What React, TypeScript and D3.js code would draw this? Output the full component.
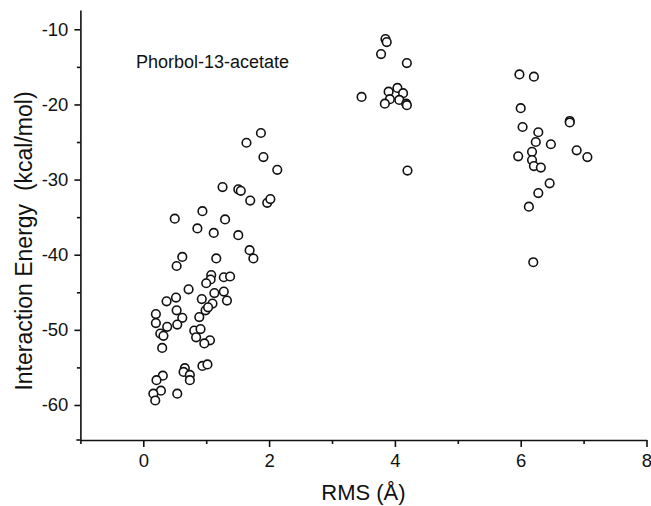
import React, { useEffect, useRef } from "react";
import * as d3 from "d3";

// [RMS (Å), interaction energy (kcal/mol)]
const lowRmsPoints: [number, number][] = [
  [1.87, -23.8], [1.64, -25.1], [1.91, -27.0], [2.13, -28.7], [1.26, -31.0],
  [1.51, -31.3], [1.55, -31.5], [1.70, -32.8], [1.97, -33.1], [2.02, -32.6],
  [0.50, -35.2], [0.94, -34.2], [1.30, -35.3], [0.86, -36.5], [1.12, -37.1],
  [1.51, -37.4], [1.69, -39.4], [1.75, -40.5], [0.62, -40.3], [0.53, -41.5],
  [1.16, -40.5], [1.08, -42.7], [1.07, -43.3], [1.00, -43.8], [1.28, -43.0],
  [1.38, -42.9], [0.72, -44.6], [0.52, -45.7], [0.37, -46.2], [0.93, -45.9],
  [1.13, -45.1], [1.28, -44.9], [1.33, -46.1], [1.10, -46.5], [0.99, -47.4],
  [1.03, -47.0], [0.89, -48.3], [0.53, -47.4], [0.62, -48.4], [0.54, -49.3],
  [0.38, -49.6], [0.20, -47.9], [0.20, -49.1], [0.27, -50.5], [0.32, -50.8],
  [0.30, -52.4], [0.81, -50.1], [0.91, -49.9], [0.84, -51.0], [1.06, -51.4],
  [0.97, -51.8], [0.94, -54.8], [1.02, -54.6], [0.66, -55.1], [0.64, -55.6],
  [0.74, -56.0], [0.74, -56.7], [0.31, -56.1], [0.21, -56.7], [0.28, -58.1],
  [0.16, -58.5], [0.19, -59.4], [0.54, -58.5],
];

const midRmsPoints: [number, number][] = [
  [3.85, -11.3], [3.87, -11.7], [3.78, -13.3], [4.19, -14.5], [3.47, -19.0],
  [3.90, -18.3], [4.04, -17.8], [4.13, -18.5], [3.92, -19.3], [3.84, -19.9],
  [4.07, -19.4], [4.18, -19.9], [4.19, -20.1], [4.20, -28.8],
];

const highRmsPoints: [number, number][] = [
  [5.98, -16.0], [6.21, -16.3], [6.00, -20.5], [6.03, -23.0], [6.78, -22.2],
  [6.78, -22.4], [6.28, -23.7], [6.24, -25.0], [6.48, -25.3], [6.18, -26.3],
  [5.96, -26.9], [6.18, -27.4], [6.21, -28.2], [6.32, -28.4], [6.89, -26.1],
  [7.06, -27.0], [6.46, -30.5], [6.28, -31.8], [6.13, -33.6], [6.20, -41.0],
];

const xTicks = [0, 2, 4, 6, 8];
const xMinorTicks = [-1, 1, 3, 5, 7];
const yTicks = [-10, -20, -30, -40, -50, -60];
const yMinorTicks = [-15, -25, -35, -45, -55];

const WIDTH = 651;
const HEIGHT = 506;
const FONT = "'Liberation Sans', Arial, Helvetica, sans-serif";

function ScatterChart() {
  const ref = useRef<SVGSVGElement | null>(null);

  useEffect(() => {
    const svg = d3.select(ref.current);
    svg.selectAll("*").remove();

    const x = d3.scaleLinear().domain([-1, 8]).range([80.4, 646.5]);
    const y = d3.scaleLinear().domain([-64.66, -7.43]).range([440, 10]);

    const ink = "#111";

    // y axis
    const yAxis = svg.append("g").attr("transform", `translate(${x(-1)},0)`);
    yAxis.call(
      d3.axisLeft(y).tickValues(yTicks).tickSize(6).tickSizeOuter(0).tickPadding(6)
        .tickFormat(d => `${d}`)
    );
    yAxis.append("g").call(
      d3.axisLeft(y).tickValues(yMinorTicks).tickSize(3.5).tickSizeOuter(0).tickFormat(() => "")
    ).select(".domain").remove();

    // x axis
    const xAxis = svg.append("g").attr("transform", `translate(0,${y.range()[0]})`);
    xAxis.call(
      d3.axisBottom(x).tickValues(xTicks).tickSize(7).tickSizeOuter(0).tickPadding(7)
        .tickFormat(d => `${d}`)
    );
    xAxis.append("g").call(
      d3.axisBottom(x).tickValues(xMinorTicks).tickSize(4).tickSizeOuter(0).tickFormat(() => "")
    ).select(".domain").remove();
    xAxis.append("line")
      .attr("x1", x(-1) - 4).attr("x2", x(-1))
      .attr("stroke", ink).attr("stroke-width", 1.6);

    svg.selectAll(".domain").attr("stroke", ink).attr("stroke-width", 1.6);
    svg.selectAll(".tick line").attr("stroke", ink).attr("stroke-width", 1.6);
    svg.selectAll(".tick text")
      .attr("fill", ink)
      .style("font-family", FONT)
      .style("font-size", "18.5px");

    // points
    const allPoints = [...lowRmsPoints, ...midRmsPoints, ...highRmsPoints];
    svg.append("g")
      .selectAll("circle")
      .data(allPoints)
      .join("circle")
      .attr("cx", d => x(d[0]))
      .attr("cy", d => y(d[1]))
      .attr("r", 4.3)
      .attr("fill", "#fff")
      .attr("stroke", ink)
      .attr("stroke-width", 1.6);

    // labels
    svg.append("text")
      .attr("x", (x.range()[0] + x.range()[1]) / 2)
      .attr("y", 500)
      .attr("text-anchor", "middle")
      .attr("fill", ink)
      .style("font-family", FONT)
      .style("font-size", "22px")
      .text("RMS (Å)");

    svg.append("text")
      .attr("transform", "rotate(-90)")
      .attr("x", -241)
      .attr("y", 32)
      .attr("text-anchor", "middle")
      .attr("fill", ink)
      .style("font-family", FONT)
      .style("font-size", "23px")
      .style("white-space", "pre")
      .text("Interaction Energy  (kcal/mol)");

    svg.append("text")
      .attr("x", 136)
      .attr("y", 68)
      .attr("fill", ink)
      .style("font-family", FONT)
      .style("font-size", "18px")
      .text("Phorbol-13-acetate");
  }, []);

  return (
    <svg
      ref={ref}
      width={WIDTH}
      height={HEIGHT}
      style={{ position: "absolute", left: 0, top: 0, background: "#fff" }}
    />
  );
}

export default function App() {
  return <ScatterChart />;
}
